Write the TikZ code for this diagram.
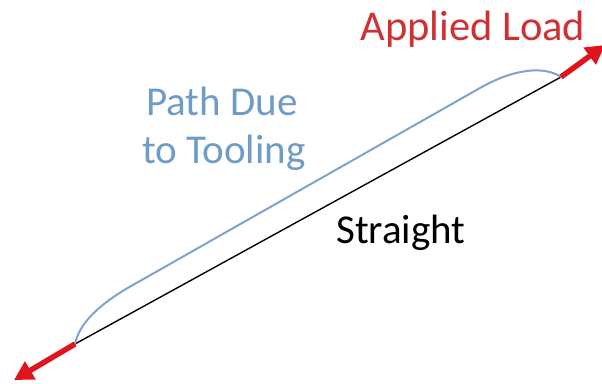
\documentclass[tikz,border=0pt]{standalone}
\usepackage{fontspec}
\setmainfont{Carlito}
\usetikzlibrary{arrows.meta}
\definecolor{loadred}{HTML}{E0141E}
\definecolor{loadtext}{HTML}{D03030}
\definecolor{pathblue}{HTML}{7FA3CC}
\definecolor{pathtext}{HTML}{6F9BC8}
\tikzset{
  lbl/.style={inner sep=0pt, font=\fontsize{41}{48}\selectfont},
  loadarrow/.style={draw=loadred, line width=5.5pt, -{Triangle[length=19pt,width=20pt]}},
  straightline/.style={draw=black, line width=1.4pt},
  toolpath/.style={draw=pathblue, line width=2pt}
}
\begin{document}
\begin{tikzpicture}[x=1pt,y=-1pt]
\useasboundingbox (0,0) rectangle (602,383);
\coordinate (A) at (75,344);
\coordinate (B) at (561,77);
\coordinate (Aend) at (14,380);
\coordinate (Bend) at (605,45);
\coordinate (P1) at (140,281);
\coordinate (P2) at (480,88);
\draw[straightline] (A) -- (B);
\draw[toolpath] (A) .. controls (80,320) and (105,300) .. (P1) -- (P2) .. controls (515,68) and (545,66) .. (B);
\draw[loadarrow] (A) -- (Aend);
\draw[loadarrow] (B) -- (Bend);
\node[lbl, font=\fontsize{42.5}{48}\selectfont, text=loadtext, anchor=base] (load) at (473,40) {Applied Load};
\node[lbl, text=pathtext, anchor=base west] (path1) at (146,115) {Path Due};
\node[lbl, text=pathtext, anchor=base west] (path2) at (142,163) {to Tooling};
\node[lbl, text=black, anchor=base west] (straight) at (336,243) {Straight};
\end{tikzpicture}
\end{document}
